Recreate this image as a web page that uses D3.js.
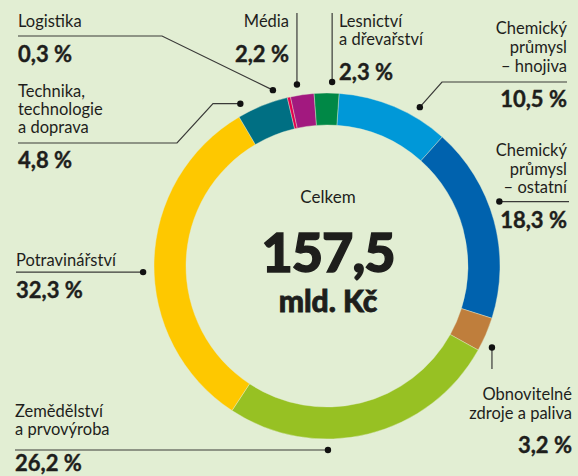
<!DOCTYPE html>
<html>
<head>
<meta charset="utf-8">
<script src="https://cdn.jsdelivr.net/npm/d3@7"></script>
<style>
  html, body { margin: 0; padding: 0; background: #e2eed3; }
  svg { display: block; }
  text { font-family: Lato, "Open Sans", sans-serif; fill: #1e1e1c; }
</style>
</head>
<body>
<div id="chart"></div>
<script>
// sectors, clockwise from the top
const categories = ['hnojiva', 'ostatni', 'obnovitelne', 'zemedelstvi', 'potraviny',
    'technika', 'logistika', 'media', 'lesnictvi'];
const values = [10.5, 18.3, 3.2, 26.2, 32.3, 4.8, 0.3, 2.2, 2.3];
const labelLines = [
    ['Chemický', 'průmysl', '– hnojiva'],
    ['Chemický', 'průmysl', '– ostatní'],
    ['Obnovitelné', 'zdroje a paliva'],
    ['Zemědělství', 'a prvovýroba'],
    ['Potravinářství'],
    ['Technika,', 'technologie', 'a doprava'],
    ['Logistika'],
    ['Média'],
    ['Lesnictví', 'a dřevařství']
];
const totalLabel = 'Celkem';
const totalValue = '157,5';
const totalUnit = 'mld. Kč';

const colors = ['#0098d8', '#0062ae', '#bf7e3c', '#97c123', '#fec800',
    '#006f83', '#e4004e', '#a2197f', '#008846'];

const width = 578, height = 476;
const cx = 327, cy = 266, outerR = 173, innerR = 141;
const startDeg = 4;

// label layout: text anchor, first baseline, percent baseline, leader path (dot added last)
const layout = {
    hnojiva:     {x: 567, anchor: 'end',   y: 34,  lh: 19, py: 107, dotDeg: 30.3,  path: [[567, 82], [442, 82]]},
    ostatni:     {x: 567, anchor: 'end',   y: 156, lh: 18.5, py: 228, dotDeg: 69.5, path: [[569, 'dot']]},
    obnovitelne: {x: 572, anchor: 'end',   y: 400, lh: 19, py: 453, dotDeg: 116.3, path: [['dot', 369]]},
    zemedelstvi: {x: 15,  anchor: 'start', y: 417, lh: 18, py: 471, dotDeg: 179.7, path: [[15, 'dot']]},
    potraviny:   {x: 16,  anchor: 'start', y: 266, lh: 18, py: 298, dotDeg: 268.1, path: [[16, 'dot']]},
    technika:    {x: 18,  anchor: 'start', y: 97,  lh: 18, py: 168, dotDeg: 331.9, path: [[18, 143], [177, 143], [213, 'dot']]},
    logistika:   {x: 18,  anchor: 'start', y: 27,  lh: 18, py: 62,  dotDeg: 342.9, path: [[18, 36], [162, 36]]},
    media:       {x: 289, anchor: 'end',   y: 27,  lh: 18, py: 62,  dotDeg: 350.6, path: [['dot', 13]]},
    lesnictvi:   {x: 339, anchor: 'start', y: 27,  lh: 18, py: 80,  dotDeg: 1.6,   path: [['dot', 13]]}
};

const fmtPct = v => d3.format('.1f')(v).replace('.', ',') + ' %';

const data = categories.map((c, i) => ({key: c, value: values[i], lines: labelLines[i], color: colors[i]}));

const svg = d3.select('#chart').append('svg')
    .attr('width', width)
    .attr('height', height);

svg.append('rect').attr('width', width).attr('height', height).attr('fill', '#e2eed3');

const toRad = d3.scaleLinear().domain([0, 360]).range([0, 2 * Math.PI]);

const pie = d3.pie()
    .sort(null)
    .value(d => d.value)
    .startAngle(toRad(startDeg))
    .endAngle(toRad(startDeg + 360));

const arc = d3.arc().innerRadius(innerR).outerRadius(outerR);

const ring = svg.append('g').attr('transform', `translate(${cx},${cy})`);

ring.selectAll('.slice')
    .data(pie(data))
    .enter()
    .append('path')
    .attr('class', 'slice')
    .attr('d', arc)
    .attr('fill', d => d.data.color)
    .attr('stroke', '#e2eed3')
    .attr('stroke-width', 0.4);

// leaders
const dotR = outerR + 11;
const polar = deg => [cx + dotR * Math.sin(toRad(deg)), cy - dotR * Math.cos(toRad(deg))];

const labels = svg.append('g');

data.forEach(d => {
    const L = layout[d.key];
    const dot = polar(L.dotDeg);
    const pts = L.path.map(p => [p[0] === 'dot' ? dot[0] : p[0], p[1] === 'dot' ? dot[1] : p[1]]);
    pts.push(dot);

    labels.append('path')
        .attr('d', d3.line()(pts))
        .attr('fill', 'none')
        .attr('stroke', '#3a3a38')
        .attr('stroke-width', 1.2);

    labels.append('circle')
        .attr('cx', dot[0])
        .attr('cy', dot[1])
        .attr('r', 3.2)
        .attr('fill', '#111');

    // one text per line so lines don't share a box
    d.lines.forEach((line, i) => {
        labels.append('text')
            .attr('x', L.x)
            .attr('y', L.y + i * L.lh)
            .attr('text-anchor', L.anchor)
            .attr('font-size', 16.5)
            .text(line);
    });

    labels.append('text')
        .attr('x', L.x)
        .attr('y', L.py)
        .attr('text-anchor', L.anchor)
        .attr('font-size', 22)
        .attr('font-weight', 700)
        .attr('stroke', '#1e1e1c')
        .attr('stroke-width', 0.4)
        .text(fmtPct(d.value));
});

// centre
const centre = svg.append('g').attr('text-anchor', 'middle');
centre.append('text')
    .attr('x', cx + 1).attr('y', 203)
    .attr('font-size', 17)
    .text(totalLabel);
centre.append('text')
    .attr('x', cx + 1).attr('y', 272)
    .attr('font-size', 54)
    .attr('font-weight', 900)
    .attr('letter-spacing', -1)
    .attr('stroke', '#1e1e1c')
    .attr('stroke-width', 1.4)
    .text(totalValue);
centre.append('text')
    .attr('x', cx + 1).attr('y', 312)
    .attr('font-size', 30)
    .attr('font-weight', 900)
    .attr('stroke', '#1e1e1c')
    .attr('stroke-width', 0.8)
    .text(totalUnit);
</script>
</body>
</html>
